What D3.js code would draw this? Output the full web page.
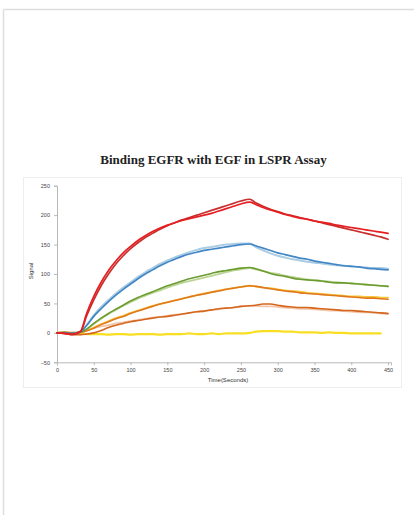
<!DOCTYPE html>
<html>
<head>
<meta charset="utf-8">
<script src="https://cdn.jsdelivr.net/npm/d3@7"></script>
<style>
  html, body { margin: 0; padding: 0; background: #fff; }
  svg { display: block; }
</style>
</head>
<body>
<svg id="chart" width="414" height="515"></svg>
<script>
// Sensorgram time points (seconds)
const times = [0, 10, 20, 32, 40, 50, 60, 70, 80, 90, 100, 110, 120, 130, 140, 150, 160, 170, 180, 190, 200,
  210, 220, 230, 240, 250, 262, 270, 280, 290, 300, 310, 320, 330, 340, 350, 360, 370, 380, 390, 400,
  410, 420, 430, 440, 450];

// Signal per concentration: measured trace and fitted trace
const redMeasured = [0, -1, -2, 3, 32, 62, 86, 106, 122, 136, 147, 157, 165, 172, 178, 183, 187, 191, 194, 197, 200,
  203, 207, 211, 215, 219, 222, 218, 213, 209, 205, 201, 198, 195, 193, 190, 188, 186, 183, 181, 179,
  177, 175, 173, 171, 169];
const redFit = [0, -1, -3, 2, 28, 56, 80, 100, 117, 131, 143, 153, 162, 169, 176, 182, 187, 192, 196, 200, 204,
  208, 212, 216, 220, 224, 227, 221, 215, 210, 206, 202, 199, 196, 193, 190, 187, 184, 181, 178, 175,
  172, 169, 166, 163, 159];
const blueMeasured = [0, 0, -1, 2, 12, 28, 41, 53, 64, 74, 83, 92, 100, 107, 114, 120, 125, 130, 134, 137, 140,
  142, 144, 146, 148, 150, 151, 148, 144, 140, 136, 133, 130, 127, 125, 122, 120, 118, 116, 114, 113,
  112, 110, 109, 108, 107];
const blueFit = [0, 0, 0, 2, 13, 30, 44, 56, 67, 77, 86, 95, 103, 110, 117, 123, 128, 133, 137, 141, 144,
  146, 148, 150, 151, 152, 152, 146, 140, 135, 131, 128, 125, 123, 121, 119, 118, 116, 115, 114, 113,
  112, 111, 110, 110, 109];
const greenMeasured = [0, 1, -1, 1, 6, 16, 25, 33, 40, 47, 54, 60, 65, 70, 75, 80, 84, 88, 92, 95, 98,
  101, 104, 106, 108, 110, 111, 109, 105, 101, 98, 96, 93, 91, 90, 89, 88, 86, 85, 85, 84,
  83, 82, 81, 80, 79];
const greenFit = [0, 0, 0, 1, 6, 15, 24, 32, 39, 46, 52, 58, 63, 68, 72, 77, 81, 85, 88, 91, 94,
  97, 100, 103, 106, 108, 110, 108, 105, 102, 100, 97, 95, 93, 91, 90, 88, 87, 86, 85, 84,
  83, 82, 81, 80, 79];
const orangeMeasured = [0, 1, 0, 1, 3, 8, 14, 19, 24, 28, 33, 37, 41, 45, 49, 52, 55, 58, 61, 64, 66,
  69, 71, 74, 76, 78, 80, 79, 77, 75, 73, 71, 70, 68, 67, 66, 65, 64, 63, 62, 61,
  60, 59, 59, 58, 57];
const orangeFit = [0, 1, 1, 1, 4, 9, 15, 20, 25, 29, 34, 38, 42, 46, 49, 52, 55, 58, 61, 64, 67,
  69, 72, 74, 76, 78, 80, 79, 77, 76, 74, 72, 71, 70, 68, 67, 66, 65, 64, 63, 62,
  62, 61, 61, 60, 60];
const brownMeasured = [0, -1, -3, -3, -2, 0, 4, 9, 13, 16, 19, 21, 23, 25, 27, 28, 30, 32, 34, 36, 37,
  39, 41, 42, 43, 45, 46, 47, 49, 49, 47, 45, 44, 43, 43, 42, 41, 40, 39, 38, 38,
  37, 36, 35, 34, 33];
const brownFit = [0, 0, 0, 1, 4, 8, 11, 13, 16, 18, 20, 22, 24, 26, 27, 29, 31, 32, 34, 36, 37,
  39, 40, 42, 43, 45, 46, 46, 45, 45, 44, 43, 42, 41, 41, 40, 39, 38, 38, 37, 36,
  35, 35, 34, 33, 32];
const yellowMeasured = [0, 0, -1, -1, -2, -2, -2, -3, -2, -2, -3, -2, -2, -2, -3, -2, -2, -2, -1, -2, -2,
  -1, -2, -1, -1, -1, 0, 2, 3, 3, 3, 2, 2, 1, 1, 1, 0, 1, 0, 0, -1,
  -1, -1, -1, -1, null];

const yTicks = [-50, 0, 50, 100, 150, 200, 250];
const xTicks = [0, 50, 100, 150, 200, 250, 300, 350, 400, 450];

const title = "Binding EGFR with EGF in LSPR Assay";
const xTitle = "Time(Seconds)";
const yTitle = "Signal";

// Draw order: fitted traces underneath, measured traces on top
const series = [
  { values: brownFit, color: "#f2c6a6", width: 1.8 },
  { values: orangeFit, color: "#f7c636", width: 1.8 },
  { values: greenFit, color: "#bcd596", width: 1.8 },
  { values: blueFit, color: "#abcde4", width: 2 },
  { values: yellowMeasured, color: "#f8df22", width: 2.2 },
  { values: brownMeasured, color: "#d4661f", width: 1.6 },
  { values: orangeMeasured, color: "#e0781f", width: 1.6 },
  { values: greenMeasured, color: "#6c9c30", width: 1.6 },
  { values: blueMeasured, color: "#4287c5", width: 1.7 },
  { values: redFit, color: "#c7302d", width: 1.7 },
  { values: redMeasured, color: "#e61e22", width: 1.7 }
];

const svg = d3.select("#chart");

// Page frame lines
svg.append("line").attr("x1", 3.5).attr("x2", 414).attr("y1", 9.5).attr("y2", 9.5)
  .attr("stroke", "#dedede").attr("stroke-width", 1.5);
svg.append("line").attr("x1", 3.5).attr("x2", 3.5).attr("y1", 9.5).attr("y2", 515)
  .attr("stroke", "#dedede").attr("stroke-width", 1.5);

// Chart area box
svg.append("rect").attr("x", 23.5).attr("y", 177.5).attr("width", 378).attr("height", 210)
  .attr("fill", "#fff").attr("stroke", "#eeeeee").attr("stroke-width", 1);

svg.append("text")
  .attr("x", 213.5).attr("y", 164)
  .attr("text-anchor", "middle")
  .attr("font-family", "'Liberation Serif', 'Times New Roman', serif")
  .attr("font-weight", "bold")
  .attr("font-size", 13)
  .attr("fill", "#222")
  .text(title);

const x = d3.scaleLinear().domain([0, 454]).range([57, 391]);
const y = d3.scaleLinear().domain([-50, 250]).range([362.3, 185.7]);

const yAxis = svg.append("g").attr("transform", "translate(57,0)")
  .call(d3.axisLeft(y).tickValues(yTicks).tickSize(3).tickPadding(4).tickFormat(d3.format("d")));
const xAxis = svg.append("g").attr("transform", "translate(0,362.3)")
  .call(d3.axisBottom(x).tickValues(xTicks).tickSize(3).tickPadding(3).tickFormat(d3.format("d")));

[yAxis, xAxis].forEach(g => {
  g.select(".domain").attr("stroke", "#b8b8b8");
  g.selectAll(".tick line").attr("stroke", "#b8b8b8");
  g.selectAll(".tick text")
    .attr("font-family", "'Liberation Sans', Arial, sans-serif")
    .attr("font-size", 5.5)
    .attr("fill", "#444");
});

svg.append("text")
  .attr("x", 228).attr("y", 382)
  .attr("text-anchor", "middle")
  .attr("font-family", "'Liberation Sans', Arial, sans-serif")
  .attr("font-size", 6)
  .attr("fill", "#333")
  .text(xTitle);

svg.append("text")
  .attr("transform", "translate(33,271) rotate(-90)")
  .attr("text-anchor", "middle")
  .attr("font-family", "'Liberation Sans', Arial, sans-serif")
  .attr("font-size", 6)
  .attr("fill", "#333")
  .text(yTitle);

const line = d3.line()
  .defined(d => d[1] !== null)
  .x(d => x(d[0]))
  .y(d => y(d[1]))
  .curve(d3.curveMonotoneX);

svg.append("g").selectAll("path")
  .data(series)
  .join("path")
  .attr("d", s => line(times.map((t, i) => [t, s.values[i]])))
  .attr("fill", "none")
  .attr("stroke", s => s.color)
  .attr("stroke-width", s => s.width)
  .attr("stroke-linejoin", "round")
  .attr("stroke-linecap", "round");
</script>
</body>
</html>
